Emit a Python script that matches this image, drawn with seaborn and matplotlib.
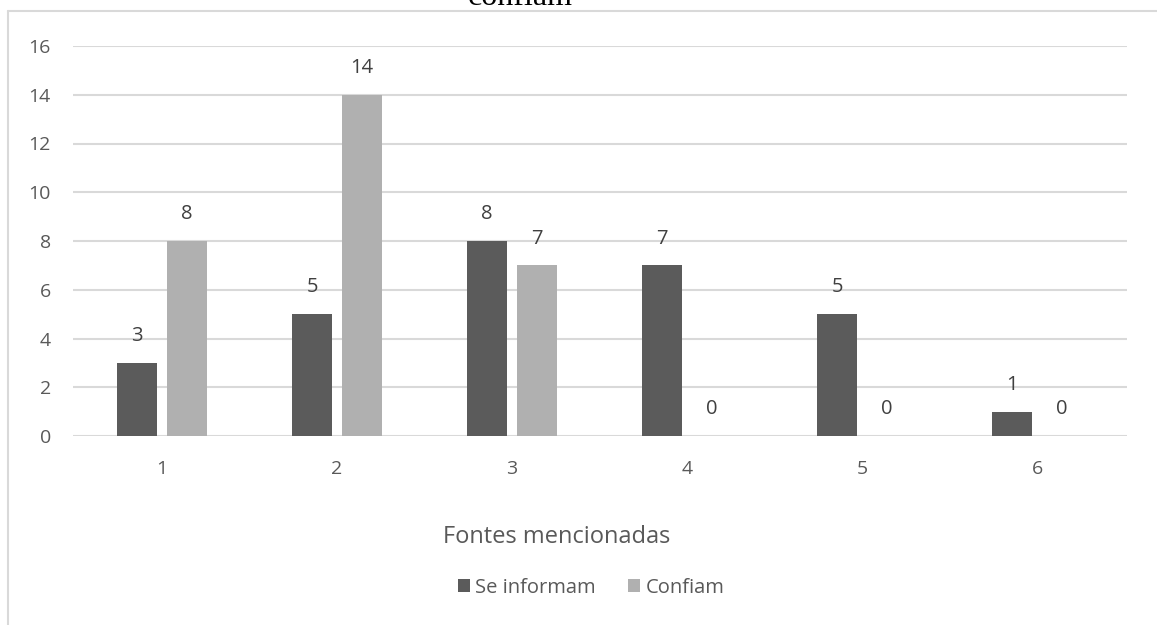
import matplotlib
matplotlib.use("Agg")
import matplotlib.pyplot as plt
from matplotlib.lines import Line2D
from matplotlib.patches import Patch
import seaborn as sns
import pandas as pd

# Number of sources mentioned and how many respondents fall in each group
fontes = ["1", "2", "3", "4", "5", "6"]
se_informam = [3, 5, 8, 7, 5, 1]
confiam = [8, 14, 7, 0, 0, 0]
series_names = ["Se informam", "Confiam"]
y_ticks = [0, 2, 4, 6, 8, 10, 12, 14, 16]

dark = "#5b5b5b"
light = "#b0b0b0"
grid_c = "#d9d9d9"
text_c = "#595959"
label_c = "#404040"

df = pd.DataFrame({
    "fonte": fontes * 2,
    "valor": se_informam + confiam,
    "serie": [series_names[0]] * len(fontes) + [series_names[1]] * len(fontes),
})

sns.set_theme(style="white")
plt.rcParams["font.family"] = ["Open Sans", "DejaVu Sans"]

fig = plt.figure(figsize=(11.57, 6.25), dpi=100)
W, H = 1157, 625
ax = fig.add_axes([73 / W, 1 - 436 / H, (1127 - 73) / W, (436 - 46) / H])

sns.barplot(data=df, x="fonte", y="valor", hue="serie", order=fontes,
            hue_order=series_names, palette=[dark, light], width=0.571,
            gap=0.2, legend=False, saturation=1, ax=ax, linewidth=0)

for cont in ax.containers:
    ax.bar_label(cont, fmt="%d", padding=12, fontsize=14.5, color=label_c)

ax.set_ylim(0, 16)
ax.set_xlim(-0.509, 5.514)
ax.set_yticks(y_ticks)
ax.yaxis.grid(True, color=grid_c, linewidth=1.5)
ax.set_axisbelow(True)
for s in ax.spines.values():
    s.set_visible(False)
ax.tick_params(axis="both", length=0, labelsize=14, labelcolor=text_c)
ax.tick_params(axis="y", pad=16)
ax.tick_params(axis="x", pad=17)
ax.set_xlabel("")
ax.set_ylabel("")

fig.text(557 / W, 1 - 537 / H, "Fontes mencionadas", ha="center", va="center",
         fontsize=17, color=text_c)

handles = [Patch(facecolor=dark, edgecolor="none"), Patch(facecolor=light, edgecolor="none")]
fig.legend(handles, series_names, loc="center", bbox_to_anchor=(591 / W, 1 - 588 / H),
           ncol=2, frameon=False, fontsize=14.5, labelcolor=text_c,
           handlelength=0.62, handleheight=0.62, handletextpad=0.25, columnspacing=1.6)

# Chart frame (left and top edges)
fig.add_artist(Line2D([8 / W, 8 / W], [0, 1 - 11 / H], color=grid_c, linewidth=1.5,
                      transform=fig.transFigure))
fig.add_artist(Line2D([8 / W, 1], [1 - 11 / H, 1 - 11 / H], color=grid_c, linewidth=1.5,
                      transform=fig.transFigure))

# Title running off the top of the figure
fig.text(520 / W, 1 - 5 / H, "confiam", ha="center", va="baseline", fontsize=23,
         family=["Liberation Serif", "DejaVu Serif"], color="black")

fig.savefig("out.png", dpi=100)
